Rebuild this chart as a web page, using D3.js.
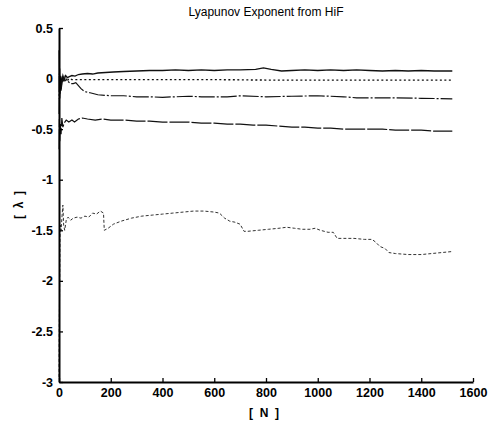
<!DOCTYPE html>
<html>
<head>
<meta charset="utf-8">
<script src="https://cdn.jsdelivr.net/npm/d3@7"></script>
<style>
body { margin: 0; background: #fff; }
text { font-family: "Liberation Sans", Arial, sans-serif; fill: #000; }
.tick text { font-family: "Liberation Sans Narrow", "Liberation Sans", Arial, sans-serif; font-weight: bold; font-size: 12.5px; }
</style>
</head>
<body>
<script>
var width = 489;
var height = 421;

// data
var xTicks = [0, 200, 400, 600, 800, 1000, 1200, 1400, 1600];
var yTicks = [-3, -2.5, -2, -1.5, -1, -0.5, 0, 0.5];

var n1 = [0.5, 1.5, 2.5, 4, 6, 8, 11, 15, 20, 26, 32, 40, 50, 62, 75, 90, 110, 130, 150, 180, 210, 250, 300, 350, 400, 450, 500, 550, 600, 650, 700, 760, 790, 820, 860, 900, 950, 1000, 1050, 1100, 1150, 1200, 1250, 1300, 1350, 1400, 1450, 1520];
var v1 = [0.28, -0.2, 0.1, -0.15, 0.02, -0.1, -0.02, 0.03, -0.01, 0.03, 0.01, 0.02, 0.03, 0.025, 0.04, 0.045, 0.05, 0.045, 0.055, 0.06, 0.065, 0.07, 0.075, 0.08, 0.08, 0.085, 0.08, 0.085, 0.08, 0.085, 0.085, 0.09, 0.105, 0.09, 0.075, 0.08, 0.085, 0.08, 0.085, 0.08, 0.085, 0.08, 0.075, 0.08, 0.075, 0.08, 0.075, 0.075];

var n2 = [3, 6, 9, 13, 18, 24, 30, 38, 50, 70, 100, 200, 400, 600, 800, 1000, 1200, 1400, 1520];
var v2 = [-0.08, 0.03, -0.06, 0.02, -0.04, 0.03, -0.03, 0.0, -0.01, -0.01, -0.01, -0.01, -0.01, -0.01, -0.015, -0.015, -0.015, -0.015, -0.015];

var n3 = [0.5, 1.5, 3, 5, 8, 12, 18, 25, 35, 45, 55, 65, 75, 85, 100, 120, 150, 200, 250, 300, 350, 400, 450, 500, 550, 600, 650, 700, 800, 900, 1000, 1100, 1150, 1200, 1300, 1400, 1520];
var v3 = [-0.35, 0.05, -0.2, -0.05, -0.12, -0.03, 0.0, -0.02, -0.03, -0.05, -0.05, -0.04, -0.07, -0.1, -0.13, -0.14, -0.16, -0.17, -0.17, -0.18, -0.18, -0.185, -0.18, -0.175, -0.18, -0.18, -0.18, -0.17, -0.18, -0.175, -0.17, -0.18, -0.19, -0.19, -0.19, -0.195, -0.2];

var n4 = [0.5, 1.5, 3, 5, 8, 11, 15, 20, 28, 38, 50, 60, 75, 90, 110, 140, 170, 200, 250, 300, 350, 400, 450, 500, 550, 600, 650, 700, 750, 800, 850, 900, 950, 1000, 1050, 1100, 1150, 1200, 1250, 1300, 1350, 1400, 1450, 1520];
var v4 = [-0.7, -0.4, -0.62, -0.45, -0.55, -0.39, -0.48, -0.44, -0.41, -0.43, -0.41, -0.43, -0.4, -0.39, -0.4, -0.41, -0.4, -0.41, -0.41, -0.42, -0.42, -0.43, -0.43, -0.43, -0.44, -0.44, -0.45, -0.45, -0.46, -0.46, -0.47, -0.48, -0.48, -0.49, -0.49, -0.5, -0.5, -0.5, -0.5, -0.51, -0.51, -0.51, -0.52, -0.52];

var n5 = [0.3, 1, 2, 3, 4, 6, 8, 12, 15, 18, 22, 28, 35, 45, 55, 70, 85, 100, 115, 130, 145, 160, 172, 175, 190, 210, 240, 280, 320, 360, 400, 440, 480, 520, 560, 600, 620, 640, 660, 680, 700, 715, 730, 770, 810, 850, 880, 910, 940, 970, 990, 1010, 1040, 1060, 1075, 1100, 1140, 1180, 1210, 1225, 1240, 1260, 1275, 1300, 1350, 1400, 1440, 1480, 1520];
var v5 = [-2.95, -2.45, -2.2, -1.9, -1.5, -1.45, -1.5, -1.35, -1.25, -1.45, -1.5, -1.4, -1.37, -1.4, -1.38, -1.37, -1.38, -1.36, -1.37, -1.33, -1.34, -1.31, -1.33, -1.5, -1.48, -1.44, -1.41, -1.38, -1.36, -1.35, -1.34, -1.33, -1.32, -1.31, -1.31, -1.32, -1.33, -1.38, -1.41, -1.42, -1.44, -1.51, -1.51, -1.5, -1.49, -1.48, -1.47, -1.48, -1.49, -1.49, -1.48, -1.5, -1.52, -1.52, -1.58, -1.58, -1.58, -1.59, -1.59, -1.62, -1.66, -1.68, -1.72, -1.73, -1.74, -1.74, -1.73, -1.72, -1.71];

var series = [
    { n: n1, v: v1, dash: null, w: 1.3, c: "#111" },
    { n: n2, v: v2, dash: "2,2.5", w: 1.4, c: "#111" },
    { n: n3, v: v3, dash: "16,2,2,2", w: 1.2, c: "#111" },
    { n: n4, v: v4, dash: "20,2", w: 1.2, c: "#111" },
    { n: n5, v: v5, dash: "3,2", w: 1, c: "#333" }
];

var svg = d3.select("body")
            .append("svg")
            .attr("width", width)
            .attr("height", height);

var x = d3.scaleLinear().domain([0, 1600]).range([59, 473]);
var y = d3.scaleLinear().domain([-3, 0.5]).range([382, 28]);

var line = d3.line()
    .x(function (d) { return x(d[0]); })
    .y(function (d) { return y(d[1]); });

svg.selectAll(".series")
    .data(series)
    .enter()
    .append("path")
    .attr("class", "series")
    .attr("fill", "none")
    .attr("stroke", function (d) { return d.c; })
    .attr("stroke-width", function (d) { return d.w; })
    .attr("stroke-dasharray", function (d) { return d.dash; })
    .attr("d", function (d) {
        return line(d.n.map(function (k, i) { return [k, d.v[i]]; }));
    });

// axes, ticks point inwards
var xAxis = svg.append("g")
    .attr("transform", "translate(0," + 382 + ")")
    .call(d3.axisBottom(x).tickValues(xTicks).tickSizeInner(-4).tickSizeOuter(0).tickPadding(6).tickFormat(function (d) { return String(d); }));

var yAxis = svg.append("g")
    .attr("transform", "translate(" + 59 + ",0)")
    .call(d3.axisLeft(y).tickValues(yTicks).tickSizeInner(-4).tickSizeOuter(0).tickPadding(6).tickFormat(function (d) { return String(d); }));

svg.selectAll(".domain").attr("stroke", "#000").attr("stroke-width", 2);
svg.selectAll(".tick line").attr("stroke", "#000").attr("stroke-width", 1.3);

svg.append("text")
    .attr("x", 266)
    .attr("y", 16)
    .attr("text-anchor", "middle")
    .style("font-size", "12px")
    .text("Lyapunov Exponent from HiF");

svg.append("text")
    .attr("x", 264)
    .attr("y", 417)
    .attr("text-anchor", "middle")
    .style("font-size", "12px")
    .style("font-weight", "bold")
    .style("white-space", "pre")
    .text("[  N  ]");

svg.append("text")
    .attr("transform", "translate(23,205) rotate(-90)")
    .attr("text-anchor", "middle")
    .style("font-size", "12px")
    .style("font-weight", "bold")
    .style("white-space", "pre")
    .text("[  λ  ]");
</script>
</body>
</html>
